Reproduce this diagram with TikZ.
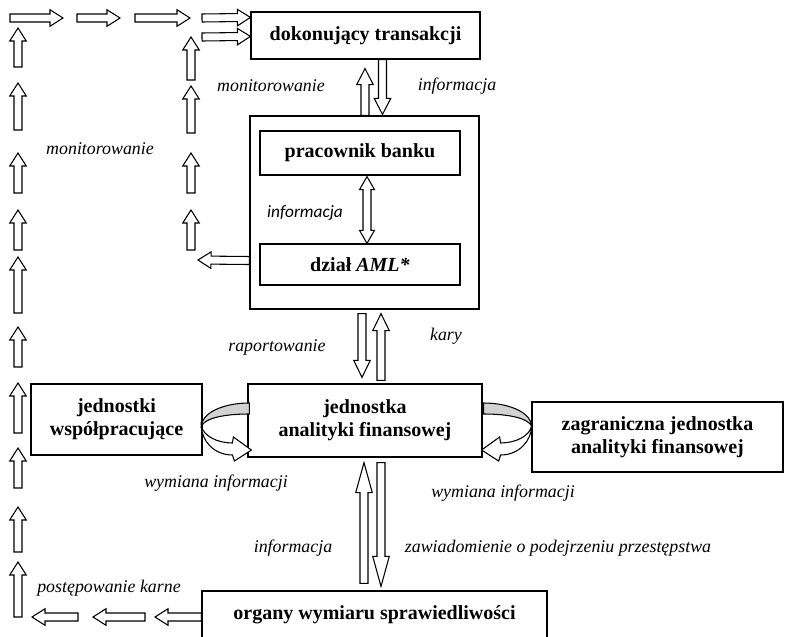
\documentclass[tikz,border=0pt]{standalone}
\usepackage{fontspec}
\setmainfont{Liberation Serif}
\newfontfamily\calibrifont{Carlito}
\usetikzlibrary{calc}

% hollow block arrow: [head length]{from}{to}
\newcommand{\hollowarrow}[3][9.75pt]{%
  \path #2 coordinate (ha-a) #3 coordinate (ha-b);
  \coordinate (ha-h) at ($(ha-b)!#1!(ha-a)$);
  \draw[harrow] ($(ha-a)!3pt!90:(ha-b)$) -- ($(ha-h)!3pt!90:(ha-b)$)
    -- ($(ha-h)!6.2pt!90:(ha-b)$) -- (ha-b)
    -- ($(ha-h)!6.2pt!-90:(ha-b)$) -- ($(ha-h)!3pt!-90:(ha-b)$)
    -- ($(ha-a)!3pt!-90:(ha-b)$) -- cycle;
}
% hollow block arrow with two heads
\newcommand{\hollowdblarrow}[3][9.75pt]{%
  \path #2 coordinate (ha-a) #3 coordinate (ha-b);
  \coordinate (ha-h) at ($(ha-b)!#1!(ha-a)$);
  \coordinate (ha-g) at ($(ha-a)!#1!(ha-b)$);
  \draw[harrow] (ha-a) -- ($(ha-g)!5.6pt!90:(ha-b)$) -- ($(ha-g)!3pt!90:(ha-b)$)
    -- ($(ha-h)!3pt!90:(ha-b)$) -- ($(ha-h)!5.6pt!90:(ha-b)$) -- (ha-b)
    -- ($(ha-h)!5.6pt!-90:(ha-b)$) -- ($(ha-h)!3pt!-90:(ha-b)$)
    -- ($(ha-g)!3pt!-90:(ha-b)$) -- ($(ha-g)!5.6pt!-90:(ha-b)$) -- cycle;
}

\tikzset{
  curvarr/.pic={
    \filldraw[fill=gray!35, line width=0.8pt] (0,-23) .. controls (-28,-23) and (-48,-12) .. (-48,0)
      .. controls (-44,-8) and (-25,-12) .. (0,-12) -- cycle;
    \filldraw[fill=white, line width=0.8pt] (-48,0) .. controls (-46,10) and (-32,17) .. (-17,17)
      -- (-16,11) -- (2,24) -- (-15,35) -- (-17,29) .. controls (-36,29) and (-48,14) .. (-48,0) -- cycle;
  }
}

\begin{document}
\begin{tikzpicture}[x=0.75pt, y=-0.75pt,
    box/.style={draw, line width=0.9pt, align=center, inner sep=0pt,
      font=\fontsize{15}{17.5}\selectfont\bfseries},
    lbl/.style={inner sep=0pt, font=\fontsize{13.4}{16}\selectfont\itshape},
    lblsans/.style={inner sep=0pt, font=\fontsize{13}{15}\selectfont\calibrifont\itshape},
    harrow/.style={draw, fill=white, line width=0.8pt, line join=miter}]
    \useasboundingbox (0,0) rectangle (785,636);

    % Boxes
    \node[box, minimum width=171.75pt, minimum height=35.25pt] (dok) at (365.5,35.5) {dokonujący transakcji};
    \node[box, minimum width=171.75pt, minimum height=144.75pt] (bank) at (364.5,212.5) {};
    \node[box, minimum width=150pt, minimum height=33pt] (prac) at (360,153) {pracownik banku};
    \node[box, minimum width=150pt, minimum height=30.75pt] (aml) at (360,264.5) {dział \textit{AML*}};
    \node[box, minimum width=175.5pt, minimum height=54.75pt] (jaf) at (365,420.5) {jednostka\\analityki finansowej};
    \node[box, minimum width=128.25pt, minimum height=53.25pt] (jwsp) at (116.5,419.5) {jednostki\\współpracujące};
    \node[box, minimum width=188.25pt, minimum height=52.5pt] (zagr) at (657.5,437) {zagraniczna jednostka\\analityki finansowej};
    \node[box, minimum width=258.75pt, minimum height=36pt] (org) at (374.5,615) {organy wymiaru sprawiedliwości};

    % Labels
    \node[lbl] (mon1) at (271,86) {monitorowanie};
    \node[lbl] (inf1) at (457,86) {informacja};
    \node[lbl] (mon2) at (100,149) {monitorowanie};
    \node[lblsans] (inf2) at (305,213) {informacja};
    \node[lbl] (rap) at (277,347) {raportowanie};
    \node[lbl] (kary) at (446,336) {kary};
    \node[lbl] (wym1) at (216,483) {wymiana informacji};
    \node[lbl] (wym2) at (503,493) {wymiana informacji};
    \node[lbl] (inf3) at (293,548) {informacja};
    \node[lbl] (zaw) at (558,548) {zawiadomienie o podejrzeniu przestępstwa};
    \node[lbl] (post) at (109,588) {postępowanie karne};

    % Monitoring chain
    \foreach \ya/\yb in {67/28, 130/83, 193/153, 250/210, 313/257, 367/327, 433/383, 488/448, 552/507, 617/562}
      {\hollowarrow{(18,\ya)}{(18,\yb)}}
    \foreach \ya/\yb in {80/37, 133/86, 193/153, 250/210}
      {\hollowarrow{(191,\ya)}{(191,\yb)}}
    \foreach \xa/\xb in {10/63, 77/120, 135/190}
      {\hollowarrow{(\xa,18)}{(\xb,18)}}
    \hollowarrow{(202,18)}{($(dok.north west)+(0,6)$)}
    \hollowarrow{(202,37)}{($(dok.north west)+(0,25)$)}
    \hollowarrow{($(bank.west |- aml.center)+(0,-4)$)}{(198,260)}
    \hollowarrow{($(org.west)+(0,2)$)}{(155,617)}
    \foreach \xa/\xb in {145/93, 78/32}
      {\hollowarrow{(\xa,617)}{(\xb,617)}}

    % Flows between boxes
    \hollowarrow[12pt]{($(bank.north)+(0.5,0)$)}{($(dok.south)+(-0.5,9)$)}
    \hollowarrow[12pt]{($(dok.south)+(17,0)$)}{($(bank.north)+(18,-1)$)}
    \hollowdblarrow{($(prac.south)+(7,1)$)}{($(aml.north)+(7,0)$)}
    \hollowarrow[12.75pt]{($(bank.south)+(-2.5,4)$)}{($(jaf.north)+(-3,-6)$)}
    \hollowarrow[12.75pt]{($(jaf.north)+(16,-3)$)}{($(bank.south)+(16.5,4)$)}
    \hollowarrow[22.5pt]{($(org.north)+(-10.5,-7)$)}{($(jaf.south)+(-1,5)$)}
    \hollowarrow[22.5pt]{($(jaf.south)+(16,5)$)}{($(org.north)+(6.5,-4)$)}

    % Exchange with partner units
    \pic at ($(jaf.west)+(2,5.5)$) {curvarr};
    \pic[xscale=-1] at ($(jaf.east)+(1,5.5)$) {curvarr};
\end{tikzpicture}
\end{document}
